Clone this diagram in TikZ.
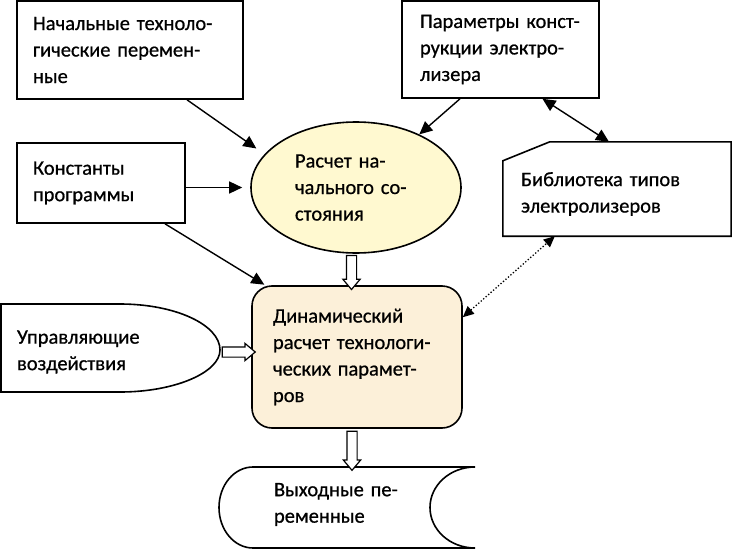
\documentclass[tikz,border=0pt]{standalone}
\usepackage{fontspec}
\setmainfont{Carlito}
\newfontfamily\diagfont{Carlito}[FakeBold=0.7]
\usetikzlibrary{arrows.meta,calc,shapes.geometric,shapes.arrows}
\definecolor{ellfill}{RGB}{255,249,208}
\definecolor{dynfill}{RGB}{252,240,217}
\tikzset{
  txt/.style={font=\diagfont\fontsize{20.5}{26.5}\selectfont, align=left, inner sep=0pt},
  boxshape/.style={txt, draw, line width=1.6pt, rectangle},
  arr/.style={line width=1.4pt, -{Triangle[length=13pt,width=12pt]}},
  darr/.style={line width=1.4pt, {Triangle[length=13pt,width=12pt]}-{Triangle[length=13pt,width=12pt]}},
  dotarr/.style={line width=1.3pt, dotted, {Triangle[length=11pt,width=10pt]}-{Triangle[length=11pt,width=10pt]}},
  hollow/.style={draw, line width=1.2pt, fill=white, shape=single arrow, inner sep=4.5pt,
    single arrow head extend=3.5pt, single arrow tip angle=80, single arrow head indent=0pt},
  outl/.style={line width=1.6pt}
}
\begin{document}
\begin{tikzpicture}[x=1pt,y=-1pt]
\useasboundingbox (0,0) rectangle (732,549);
% boxes
\node[boxshape, minimum width=226pt, minimum height=98pt, text width=194pt] (b1) at (130,50)
  {Начальные техноло-\\гические перемен-\\ные};
\node[boxshape, minimum width=168pt, minimum height=80pt, text width=136pt] (b2) at (101,183)
  {Константы\\программы};
\node[boxshape, minimum width=197pt, minimum height=97pt, text width=161pt] (b3) at (500.5,49.5)
  {Параметры конст-\\рукции электро-\\лизера};
% library (cut corner)
\node[txt, minimum width=228pt, minimum height=94pt, text width=192pt] (lib) at (617,194)
  {Библиотека типов\\электролизеров};
\draw[outl] ([yshift=5pt]lib.south west) -- ([yshift=-14pt]lib.north west)
  -- ([xshift=47pt,yshift=5pt]lib.north west)
  -- ([yshift=5pt]lib.north east) -- ([yshift=5pt]lib.south east) -- cycle;
% ellipse
\node[txt, draw, line width=1.6pt, ellipse, fill=ellfill, minimum width=210pt, minimum height=131pt,
  text width=122pt] (ell) at (356,187.5)
  {Расчет на-\\чального со-\\стояния};
% dynamic box
\node[boxshape, rounded corners=20pt, fill=dynfill, minimum width=210pt, minimum height=142pt,
  text width=168pt] (dyn) at (357,357)
  {Динамический\\расчет технологи-\\ческих парамет-\\ров};
% control input shape
\node[txt, minimum width=219pt, minimum height=88pt, text width=187pt] (ctl) at (110.5,352)
  {Управляющие\\воздействия};
\draw[outl] (1,392) -- (1,304) -- (120,304)
  .. controls (175.2,304) and (220,324.7) .. (220,350)
  .. controls (220,372.3) and (175.2,392) .. (120,392) -- cycle;
% output shape
\node[txt, minimum width=256pt, minimum height=81pt, text width=146pt] (out) at (347,504.5)
  {Выходные пе-\\ременные};
\draw[outl] (253,467) -- (475,467)
  .. controls (450.1,467) and (430,485.1) .. (430,507.5)
  .. controls (430,529.9) and (450.1,548) .. (475,548)
  -- (253,548)
  .. controls (234.2,548) and (219,529.9) .. (219,507.5)
  .. controls (219,485.1) and (234.2,467) .. (253,467) -- cycle;
% connectors
\draw[arr, shorten >=10pt] ([xshift=57pt]b1.south) -- (ell.160);
\draw[arr, shorten >=8pt] (b2.east |- ell.west) -- (ell.west);
\draw[arr, shorten >=1pt] ([xshift=64pt]b2.south) -- ([xshift=14pt]dyn.north west);
\draw[arr] ([xshift=-40.5pt]b3.south) -- (ell.40);
\draw[darr] ([xshift=42pt]b3.south) -- ([xshift=-8pt,yshift=5pt]lib.north);
\draw[dotarr] ([yshift=-32pt]dyn.north east) -- ([xshift=52pt,yshift=5pt]lib.south west);
% hollow arrows
\node[hollow, minimum height=34pt, rotate=-90] (h1) at ($([xshift=-5pt]ell.south)!0.5!([xshift=-5pt]dyn.north)$) {};
\node[hollow, minimum height=33pt] (h2) at ($(ctl.east)!0.5!(ctl.east -| dyn.west)$) {};
\node[hollow, minimum height=39pt, rotate=-90] (h3) at ($([xshift=-5pt]dyn.south)!0.5!([xshift=-5pt,yshift=-3pt]dyn.south |- out.north)$) {};
\end{tikzpicture}
\end{document}
